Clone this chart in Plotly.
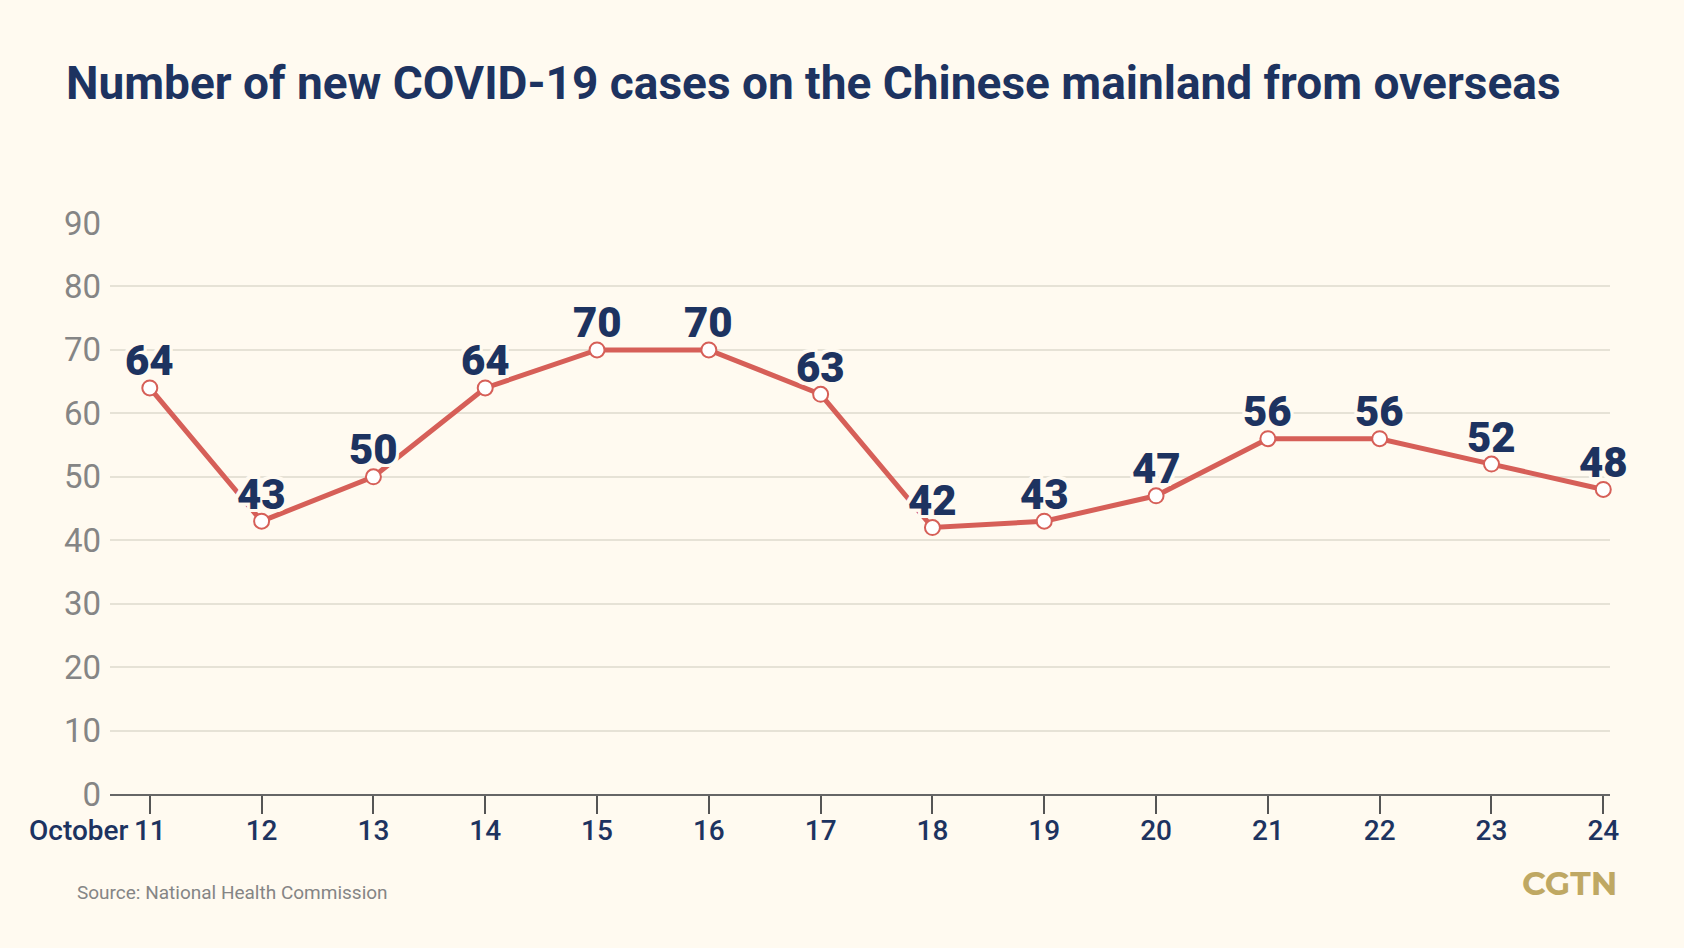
import plotly.graph_objects as go

days = [11, 12, 13, 14, 15, 16, 17, 18, 19, 20, 21, 22, 23, 24]
day_labels = ["11", "12", "13", "14", "15", "16", "17", "18", "19", "20", "21", "22", "23", "24"]
month_label = "October"
cases = [64, 43, 50, 64, 70, 70, 63, 42, 43, 47, 56, 56, 52, 48]
y_ticks = [0, 10, 20, 30, 40, 50, 60, 70, 80, 90]

title_text = "Number of new COVID-19 cases on the Chinese mainland from overseas"
source_text = "Source: National Health Commission"
logo_text = "CGTN"

W, H = 1684, 948
ML, MR, MT, MB = 110, 74, 223, 154
PW, PH = W - ML - MR, H - MT - MB


def px(xp):
    return (xp - ML) / PW


def py(yp):
    return (H - MB - yp) / PH


BG = "#fffaf0"
NAVY = "#1d3360"
RED = "#d65f58"
GRAY = "#858585"

halo = ", ".join(f"{dx}px {dy}px 0 {BG}" for dx in (-3, 0, 3) for dy in (-3, 0, 3) if dx or dy)

fig = go.Figure()
fig.add_trace(go.Scatter(
    x=days, y=cases,
    mode="lines+markers",
    line=dict(color=RED, width=5),
    marker=dict(size=15, color="white", line=dict(color=RED, width=2)),
    cliponaxis=False,
    hoverinfo="skip",
))

for d, v in zip(days, cases):
    fig.add_annotation(
        x=d, y=v, xref="x", yref="y",
        text=str(v), showarrow=False,
        xanchor="center", yanchor="middle", yshift=27,
        font=dict(family="Roboto", size=42, color=NAVY, weight=900, shadow=halo),
    )

fig.update_layout(
    width=W, height=H,
    margin=dict(l=ML, r=MR, t=MT, b=MB),
    paper_bgcolor=BG, plot_bgcolor=BG,
    showlegend=False,
    xaxis=dict(
        range=[10.644, 24.06],
        tickvals=days, ticktext=day_labels,
        ticks="outside", ticklen=18, tickwidth=1.5, tickcolor="#555555",
        showline=True, linecolor="#666666", linewidth=1.5,
        showgrid=False, zeroline=False,
        tickfont=dict(family="Roboto", size=28, color=NAVY, weight=500),
        ticklabelstandoff=-7,
    ),
    yaxis=dict(
        range=[0, 90],
        tickvals=y_ticks,
        showgrid=True, gridcolor="#e6e2d6", gridwidth=1.5,
        zeroline=False, showline=False,
        tickfont=dict(family="Roboto", size=33, color=GRAY, weight=400),
        ticklabelstandoff=8,
    ),
)

fig.add_annotation(
    x=days[0], y=0, xref="x", yref="y",
    text=month_label, showarrow=False,
    xanchor="right", yanchor="middle",
    xshift=-19, yshift=-36,
    font=dict(family="Roboto", size=28, color=NAVY, weight=500),
)

fig.add_annotation(
    x=px(64), y=py(83), xref="paper", yref="paper",
    text=title_text, showarrow=False, xanchor="left", yanchor="middle",
    font=dict(family="Roboto", size=46, color=NAVY, weight="bold"),
)
fig.add_annotation(
    x=px(75), y=py(892), xref="paper", yref="paper",
    text=source_text, showarrow=False, xanchor="left", yanchor="middle",
    font=dict(family="Roboto", size=19, color=GRAY),
)
fig.add_annotation(
    x=px(1619), y=py(883), xref="paper", yref="paper",
    text=logo_text, showarrow=False, xanchor="right", yanchor="middle",
    font=dict(family="Montserrat, Roboto", size=33, color="#bfa863", weight="bold"),
)

fig.write_html(
    "out.html",
    config={"displayModeBar": False},
    post_script="document.body.style.margin='0';document.body.style.background='" + BG + "';",
)
